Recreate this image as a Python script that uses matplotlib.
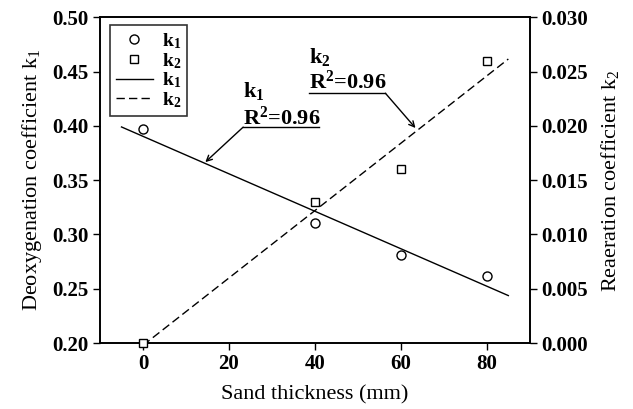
import numpy as np
import matplotlib
matplotlib.use("Agg")
import matplotlib.pyplot as plt

plt.rcParams['font.family'] = ['Liberation Serif', 'DejaVu Serif']
plt.rcParams['mathtext.fontset'] = 'custom'
plt.rcParams['mathtext.rm'] = 'Liberation Serif'
plt.rcParams['mathtext.it'] = 'Liberation Serif'
plt.rcParams['mathtext.bf'] = 'Liberation Serif:bold'

# data
thickness = [0, 40, 60, 80]
k1 = [0.397, 0.311, 0.281, 0.262]
k2 = [0.000, 0.013, 0.016, 0.026]

# fitted lines
b1 = np.polyfit(thickness, k1, 1)
b2 = np.polyfit(thickness, k2, 1)
x1 = np.array([-5, 85])
x2 = np.array([0, 85])

K1 = r'$\mathbf{k_1}$'
K2 = r'$\mathbf{k_2}$'
R2 = r'R$^\mathbf{2}$=0.96'

fig = plt.figure(figsize=(6.33, 4.09), dpi=100)
ax = fig.add_axes([0.158, 0.161, 0.679, 0.797])
ax2 = ax.twinx()

ax.plot(thickness, k1, 'o', mfc='white', mec='black', ms=6.5, mew=1, label=K1, zorder=3)
ax.plot([], [], 's', mfc='white', mec='black', ms=6, mew=1, label=K2)
ax.plot(x1, np.polyval(b1, x1), 'k-', lw=1, label=K1)
ax.plot([], [], 'k--', lw=1, dashes=(6, 3), label=K2)

ax2.plot(thickness, k2, 's', mfc='white', mec='black', ms=6, mew=1, zorder=3, clip_on=False)
ax2.plot(x2, np.polyval(b2, x2), 'k--', lw=1, dashes=(6, 3))

ax.set_xlim(-10, 90)
ax.set_ylim(0.20, 0.50)
ax2.set_ylim(0.000, 0.030)
ax.set_xticks([0, 20, 40, 60, 80])
ax.set_yticks(np.arange(0.20, 0.501, 0.05))
ax2.set_yticks(np.arange(0.0, 0.0301, 0.005))
ax.set_yticklabels(['%.2f' % v for v in np.arange(0.20, 0.501, 0.05)])
ax2.set_yticklabels(['%.3f' % v for v in np.arange(0.0, 0.0301, 0.005)])

for a in (ax, ax2):
    a.tick_params(direction='out', length=5, width=1, labelsize=15, pad=3)
    for lab in a.get_yticklabels() + a.get_xticklabels():
        lab.set_fontweight('bold')
    for s in a.spines.values():
        s.set_linewidth(1.2)

ax.set_xlabel('Sand thickness (mm)', fontsize=16, labelpad=8)
ax.set_ylabel(r'Deoxygenation coefficient k$_1$', fontsize=16, labelpad=6)
ax2.set_ylabel(r'Reaeration coefficient k$_2$', fontsize=16, labelpad=8)

leg = ax.legend(loc='upper left', bbox_to_anchor=(0.023, 0.975), borderaxespad=0,
                prop={'size': 14, 'weight': 'bold'}, frameon=True,
                fancybox=False, edgecolor='black', handlelength=1.9, borderpad=0.3,
                labelspacing=0.0, handletextpad=0.5)
leg.get_frame().set_linewidth(1.2)

# annotations
ax.text(23.3, 0.4264, K1, fontsize=16, fontweight='bold', va='baseline')
ax.text(23.3, 0.4006, R2, fontsize=16, fontweight='bold', va='baseline')
ax.plot([23.3, 41.0], [0.3988, 0.3988], 'k-', lw=1)
ax.annotate('', xy=(14.5, 0.3666), xytext=(23.3, 0.3988),
            arrowprops=dict(arrowstyle='->', lw=1, color='black', shrinkA=0, shrinkB=0))

ax.text(38.7, 0.4577, K2, fontsize=16, fontweight='bold', va='baseline')
ax.text(38.7, 0.4337, R2, fontsize=16, fontweight='bold', va='baseline')
ax.plot([38.7, 56.4], [0.430, 0.430], 'k-', lw=1)
ax.annotate('', xy=(63.4, 0.398), xytext=(56.4, 0.430),
            arrowprops=dict(arrowstyle='->', lw=1, color='black', shrinkA=0, shrinkB=0))

fig.savefig('out.png', dpi=100)
